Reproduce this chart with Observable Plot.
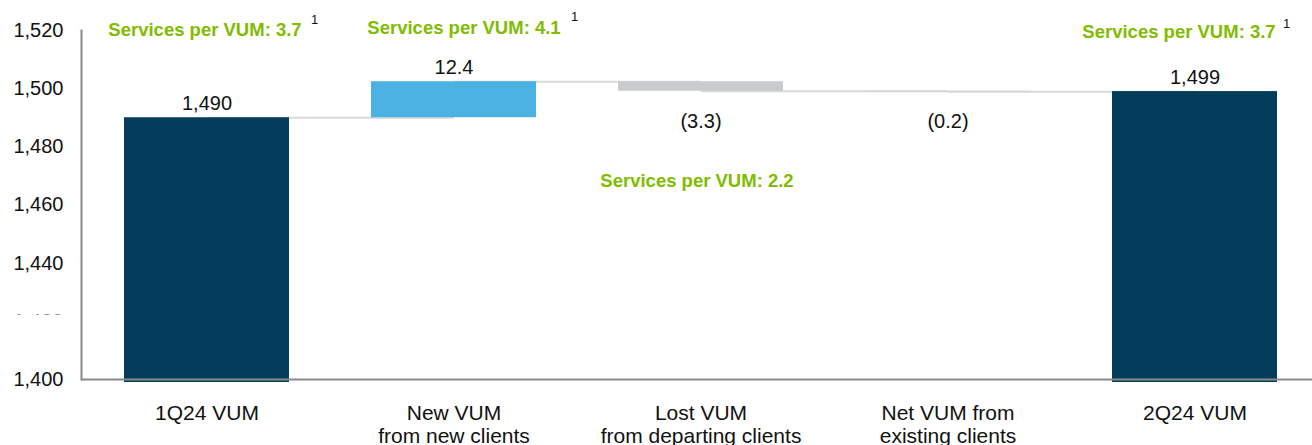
<!DOCTYPE html>
<html><head><meta charset="utf-8">
<script src="https://cdn.jsdelivr.net/npm/d3@7"></script>
<script src="https://cdn.jsdelivr.net/npm/@observablehq/plot@0.6"></script>
<style>
body{margin:0;background:#fff;}
#chart svg{font-family:"Liberation Sans",Arial,sans-serif;}
</style>
</head><body><div id="chart"></div>
<script>
// ---- data ----
const categories = ["1Q24 VUM","New VUM\nfrom new clients","Lost VUM\nfrom departing clients","Net VUM from\nexisting clients","2Q24 VUM"];
const kinds = ["total","increase","decrease","decrease","total"];
const values = [1490, 12.4, -3.3, -0.2, 1499];
const yTicks = [1400,1420,1440,1460,1480,1500,1520];
const annotCats = [categories[0], categories[1], categories[2], categories[4]];
const annotTexts = ["Services per VUM: 3.7","Services per VUM: 4.1","Services per VUM: 2.2","Services per VUM: 3.7"];
const annotNotes = ["1","1","","1"];

// ---- derived waterfall table ----
const base = 1400;
let running = 0;
const rows = categories.map((c, i) => {
  let start, end;
  if (kinds[i] === "total") { start = base; end = values[i]; running = values[i]; }
  else { start = running; end = running + values[i]; running = end; }
  return {cat: c, kind: kinds[i], value: values[i], start, end, top: Math.max(start, end), bottom: Math.min(start, end)};
});
const connectors = rows.slice(0, -1).map((r, i) => ({from: r.cat, to: rows[i+1].cat, level: r.end}));
const fmtTotal = d3.format(",");
const labelOf = r => r.kind === "total" ? fmtTotal(r.value) : (r.value < 0 ? `(${Math.abs(r.value).toFixed(1)})` : r.value.toFixed(1));
const colors = {total: "#023d5b", increase: "#4cb2e4", decrease: "#c9cbcd"};

const totalRows = rows.filter(r => r.kind === "total");
const deltaRows = rows.filter(r => r.kind !== "total");
const posRows = rows.filter(r => r.value >= 0);
const negRows = rows.filter(r => r.value < 0);

// annotation layout (pixel offsets / y anchors)
const annotY = [1520.3, 1521.0, 1468.1, 1519.6];
const annotDx = [-2, 10, -4, -16];
const noteDx = [104, 117, 0, 88];
const noteY = [1523.5, 1524.8, 0, 1522.4];

const annotMarks = annotTexts.map((t, i) => Plot.text([t], {
  x: () => annotCats[i], y: () => annotY[i], text: d => d, dx: annotDx[i],
  fill: "#80bc00", fontWeight: "bold", fontSize: 18.5
}));
const noteMarks = annotNotes.map((n, i) => n ? Plot.text([n], {
  x: () => annotCats[i], y: () => noteY[i], text: d => d, dx: noteDx[i],
  fill: "#111", fontSize: 13, textAnchor: "start"
}) : null).filter(Boolean);

const chart = Plot.plot({
  width: 1312,
  height: 445,
  marginLeft: 81,
  marginRight: 0,
  marginTop: 30,
  marginBottom: 66,
  style: {fontFamily: "'Liberation Sans', Arial, sans-serif", background: "#fff"},
  x: {domain: categories, range: [81, 1319], paddingInner: 1/3, paddingOuter: 1/6, label: null},
  y: {domain: [1400, 1520], label: null},
  marks: [
    Plot.axisY({ticks: yTicks, tickSize: 0, tickPadding: 18, fontSize: 20, fill: "#111", tickFormat: fmtTotal, label: null}),
    Plot.axisX({tickSize: 0, tickPadding: 23, fontSize: 21, fill: "#111", lineHeight: 1.14, label: null}),
    Plot.link(connectors, {x1: "from", x2: "to", y1: "level", y2: "level", stroke: "#d9d9d9", strokeWidth: 2}),
    Plot.barY(totalRows, {x: "cat", y1: "start", y2: "end", fill: d => colors[d.kind], insetBottom: -3, clip: false}),
    Plot.barY(deltaRows, {x: "cat", y1: "start", y2: "end", fill: d => colors[d.kind]}),
    Plot.text(posRows, {x: "cat", y: "top", text: labelOf, dy: -14, fontSize: 20, fill: "#111"}),
    Plot.text(negRows, {x: "cat", y: "bottom", text: labelOf, dy: 30, fontSize: 20, fill: "#111"}),
    Plot.ruleY([1400], {stroke: "#8a8a8a", strokeWidth: 2}),
    Plot.frame({anchor: "left", stroke: "#8a8a8a", strokeWidth: 2}),
    ...annotMarks,
    ...noteMarks
  ]
});
document.getElementById("chart").appendChild(chart);

// partially hidden 1,420 tick label as in the source
const svg = d3.select(chart);
const defs = svg.insert("defs", ":first-child");
defs.append("clipPath").attr("id", "clip1420").attr("clipPathUnits", "objectBoundingBox")
  .append("rect").attr("x", -0.1).attr("y", -0.2).attr("width", 1.2).attr("height", 0.42);
svg.selectAll("text").filter(function(){ return this.textContent === "1,420"; })
  .attr("clip-path", "url(#clip1420)");
</script>
</body></html>
